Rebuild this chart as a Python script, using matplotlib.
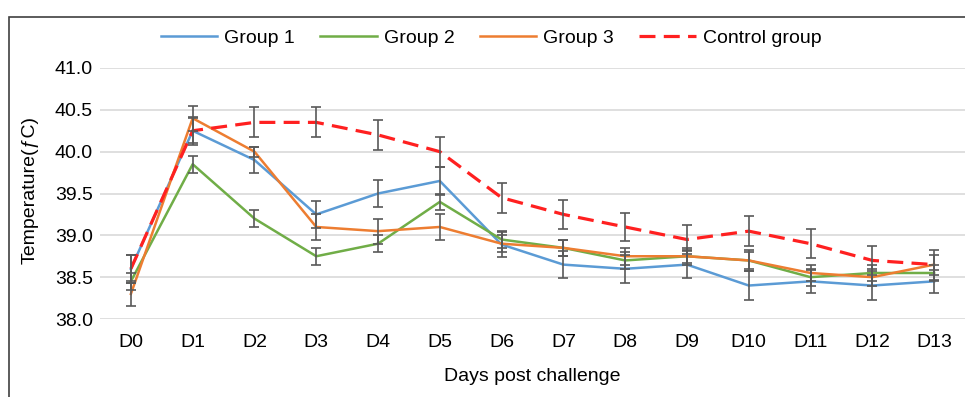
import numpy as np
import matplotlib
matplotlib.use("Agg")
from matplotlib import pyplot as plt
from matplotlib.patches import Rectangle

plt.rcParams['font.family'] = ['Liberation Sans', 'DejaVu Sans']

days = ['D0', 'D1', 'D2', 'D3', 'D4', 'D5', 'D6', 'D7', 'D8', 'D9', 'D10', 'D11', 'D12', 'D13']

group1 = [38.6, 40.25, 39.9, 39.25, 39.5, 39.65, 38.89, 38.65, 38.6, 38.65, 38.4, 38.45, 38.4, 38.45]
group2 = [38.45, 39.85, 39.2, 38.75, 38.9, 39.4, 38.95, 38.85, 38.7, 38.75, 38.7, 38.5, 38.55, 38.55]
group3 = [38.3, 40.4, 40.0, 39.1, 39.05, 39.1, 38.9, 38.85, 38.75, 38.75, 38.7, 38.55, 38.5, 38.65]
control = [38.6, 40.25, 40.35, 40.35, 40.2, 40.0, 39.45, 39.25, 39.1, 38.95, 39.05, 38.9, 38.7, 38.65]

err1 = [0.17, 0.17, 0.16, 0.16, 0.16, 0.17, 0.15, 0.16, 0.17, 0.16, 0.17, 0.14, 0.17, 0.14]
err2 = [0.1, 0.1, 0.1, 0.1, 0.1, 0.1, 0.1, 0.1, 0.1, 0.1, 0.1, 0.1, 0.1, 0.1]
err3 = [0.15, 0.15, 0.06, 0.16, 0.15, 0.15, 0.1, 0.1, 0.1, 0.08, 0.13, 0.1, 0.1, 0.12]
err_c = [0.17, 0.15, 0.18, 0.18, 0.18, 0.18, 0.18, 0.17, 0.17, 0.17, 0.18, 0.17, 0.17, 0.18]

x = np.arange(len(days))

fig = plt.figure(figsize=(9.65, 3.97), dpi=100)
ax = fig.add_axes([100 / 965, 78 / 397, 865 / 965, 251 / 397])

# outer frame (cropped box)
fig.patches.append(Rectangle((9 / 965, -0.1), 1.2, (397 - 17) / 397 + 0.1,
                             transform=fig.transFigure, fill=False,
                             edgecolor='#404040', linewidth=1.2))

series = [
    (group1, err1, '#5B9BD5', 'solid', 1.8, 'Group 1'),
    (group2, err2, '#70AD47', 'solid', 1.8, 'Group 2'),
    (group3, err3, '#ED7D31', 'solid', 1.8, 'Group 3'),
    (control, err_c, '#FF2020', (0, (5, 2.6)), 2.3, 'Control group'),
]

handles = []
for vals, err, col, ls, lw, lab in series:
    h, = ax.plot(x, vals, color=col, linestyle=ls, linewidth=lw, label=lab, zorder=3)
    ax.errorbar(x, vals, yerr=err, fmt='none', ecolor='#595959', elinewidth=1.2,
                capsize=3.5, capthick=1.2, zorder=4)
    handles.append(h)

ax.set_xlim(-0.5, 13.5)
ax.set_ylim(38.0, 41.0)
ax.set_yticks(np.arange(38.0, 41.01, 0.5))
ax.set_yticklabels(['%.1f' % v for v in np.arange(38.0, 41.01, 0.5)])
ax.set_xticks(x)
ax.set_xticklabels(days)
ax.tick_params(axis='both', length=0, labelsize=14, colors='black')
ax.tick_params(axis='x', pad=11)
ax.tick_params(axis='y', pad=5)
ax.grid(axis='y', color='#D9D9D9', linewidth=1.2)
ax.set_axisbelow(True)
for s in ax.spines.values():
    s.set_visible(False)

ax.set_xlabel('Days post challenge', fontsize=14, labelpad=12)
fig.text(30 / 965, 1 - 190 / 397, 'Temperature(ƒC)', rotation=90, fontsize=14,
         ha='center', va='center')

fig.legend(handles=handles, loc='center', bbox_to_anchor=(0.509, 0.904), ncol=4,
           frameon=False, fontsize=14, handlelength=2.9, handletextpad=0.36,
           columnspacing=1.3)

fig.savefig('out.png', dpi=100)
